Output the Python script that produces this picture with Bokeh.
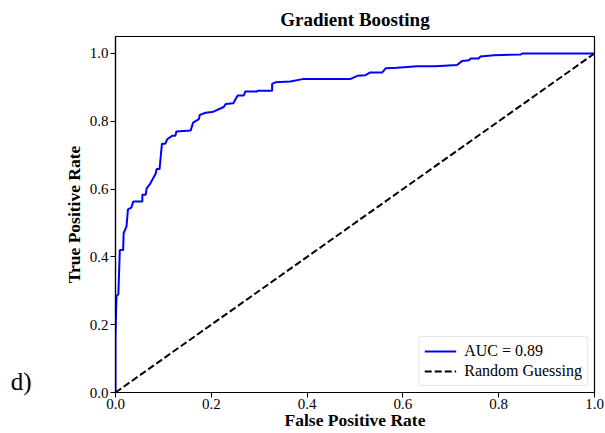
from bokeh.plotting import figure
from bokeh.models import (Range1d, FixedTicker, PrintfTickFormatter, Legend, LegendItem,
                          LinearAxis)
from bokeh.embed import file_html
from bokeh.resources import INLINE

fpr = [0.0, 0.0, 0.002, 0.006, 0.009, 0.016, 0.017, 0.023, 0.026, 0.033, 0.037, 0.056, 0.056,
       0.063, 0.065, 0.073, 0.084, 0.086, 0.092, 0.095, 0.097, 0.104, 0.108, 0.118, 0.125, 0.127,
       0.157, 0.162, 0.174, 0.176, 0.188, 0.202, 0.226, 0.230, 0.246, 0.255, 0.268, 0.271, 0.296,
       0.297, 0.327, 0.327, 0.334, 0.365, 0.393, 0.491, 0.505, 0.522, 0.532, 0.557, 0.564, 0.588,
       0.630, 0.668, 0.713, 0.724, 0.738, 0.741, 0.758, 0.762, 0.790, 0.846, 0.849, 1.0]
tpr = [0.0, 0.167, 0.284, 0.290, 0.420, 0.420, 0.470, 0.490, 0.540, 0.545, 0.563, 0.563, 0.583,
       0.583, 0.602, 0.617, 0.646, 0.659, 0.659, 0.705, 0.734, 0.734, 0.747, 0.757, 0.757, 0.770,
       0.773, 0.796, 0.806, 0.819, 0.825, 0.827, 0.842, 0.851, 0.853, 0.876, 0.876, 0.888, 0.888,
       0.890, 0.890, 0.910, 0.915, 0.917, 0.925, 0.925, 0.934, 0.936, 0.944, 0.944, 0.956, 0.958,
       0.962, 0.962, 0.966, 0.978, 0.980, 0.985, 0.985, 0.991, 0.995, 0.997, 1.0, 1.0]
diag = [0.0, 1.0]
ticks = [0.0, 0.2, 0.4, 0.6, 0.8, 1.0]
panel_label = "d)"
panel_label_y = 0.032

FONT = "Liberation Serif"

p = figure(width=605, height=433, output_backend="svg", toolbar_location=None,
           x_range=Range1d(0, 1), y_range=Range1d(0, 1.05),
           min_border_left=115, min_border_right=11, min_border_top=36, min_border_bottom=41)
p.title.text = "Gradient Boosting"
p.title.align = "center"
p.title.text_font = FONT
p.title.text_font_size = "19px"
p.title.text_font_style = "bold"
p.title.text_color = "black"
p.title.offset = 0
p.title.standoff = 13

p.xgrid.visible = False
p.ygrid.visible = False
p.outline_line_color = "black"
p.outline_line_width = 1.2

for ax in (p.xaxis[0], p.yaxis[0]):
    ax.ticker = FixedTicker(ticks=ticks)
    ax.formatter = PrintfTickFormatter(format="%.1f")
    ax.major_label_text_font = FONT
    ax.major_label_text_font_size = "15px"
    ax.major_label_text_color = "black"
    ax.axis_label_text_font = FONT
    ax.axis_label_text_font_size = "17.5px"
    ax.axis_label_text_font_style = "bold"
    ax.axis_label_text_color = "black"
    ax.minor_tick_line_color = None
    ax.major_tick_in = 0
    ax.major_tick_out = 5
    ax.major_tick_line_color = "black"
    ax.axis_line_color = "black"
    ax.axis_line_width = 1.2
    ax.major_label_standoff = 2

p.xaxis.axis_label = "False Positive Rate"
p.yaxis.axis_label = "True Positive Rate"
p.xaxis.major_label_standoff = 1
p.xaxis.axis_label_standoff = -2
p.yaxis.axis_label_standoff = 3

r1 = p.line(fpr, tpr, line_color="blue", line_width=2)
r2 = p.line(diag, diag, line_color="black", line_width=2, line_dash="7 3")

legend = Legend(items=[LegendItem(label="AUC = 0.89", renderers=[r1]),
                       LegendItem(label="Random Guessing", renderers=[r2])],
                location="bottom_right")
legend.label_text_font = FONT
legend.label_text_font_size = "16px"
legend.label_text_color = "black"
legend.border_line_color = "#d0d0d0"
legend.border_radius = 3
legend.margin = 6
legend.padding = 5
legend.spacing = 2
legend.glyph_width = 32
legend.label_height = 18
legend.glyph_height = 18
legend.label_standoff = 8
p.add_layout(legend)

# panel letter drawn as an extra, line-less left axis with a single labelled tick
tag_axis = LinearAxis(ticker=FixedTicker(ticks=[panel_label_y]),
                      major_label_overrides={panel_label_y: panel_label},
                      axis_line_color=None, major_tick_line_color=None,
                      minor_tick_line_color=None,
                      major_label_text_font=FONT, major_label_text_font_size="25px",
                      major_label_text_color="black", major_label_standoff=23)
p.add_layout(tag_axis, "left")

open("out.html", "w").write(file_html(p, INLINE))
